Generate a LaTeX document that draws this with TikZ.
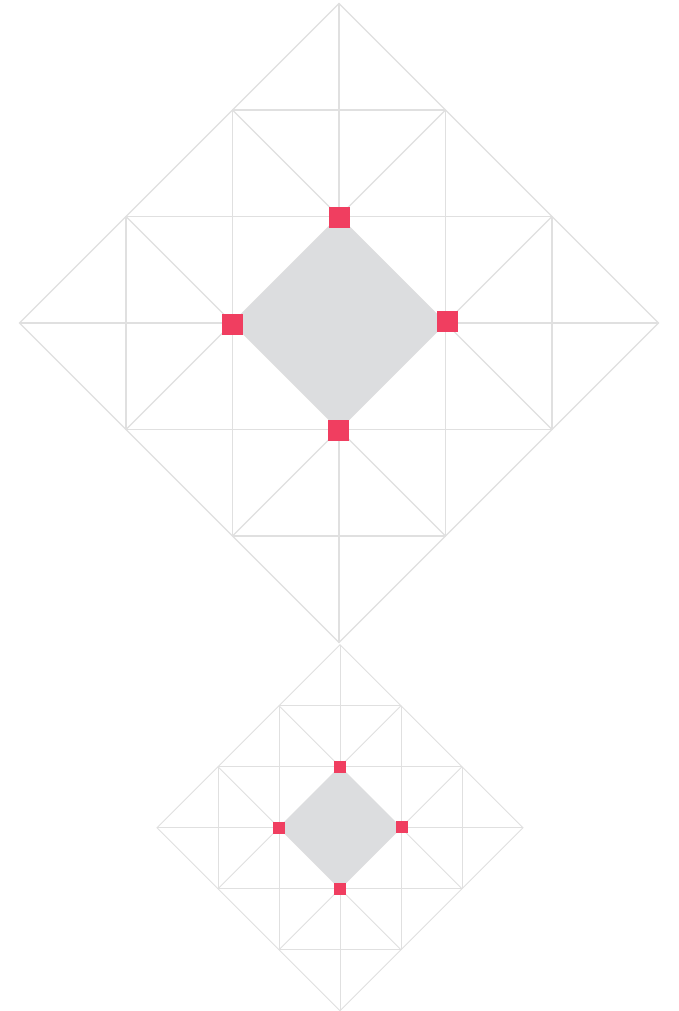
\documentclass[tikz,border=0pt]{standalone}
\definecolor{gridgray}{HTML}{E0E0E0}
\definecolor{fillgray}{HTML}{DCDDDF}
\definecolor{accent}{HTML}{F03E60}
\tikzset{
  gridline/.style={draw=gridgray,line width=#1},
  redsq/.style={fill=accent,draw=none,inner sep=0pt,minimum size=#1,rectangle}
}
\newcommand\diamondpattern[4]{% cx, cy, spacing, line width
  \begin{scope}[shift={(#1,#2)},x=#3pt,y=-#3pt,gridline=#4]
    \draw (0,-3) -- (3,0) -- (0,3) -- (-3,0) -- cycle;
    \foreach \k/\m in {-2/1,-1/2,0/3,1/2,2/1}{
      \draw (\k,-\m) -- (\k,\m);
      \draw (-\m,\k) -- (\m,\k);
    }
    \draw (2,1) -- (-1,-2);
    \draw (1,2) -- (-2,-1);
    \draw (2,-1) -- (-1,2);
    \draw (1,-2) -- (-2,1);
    \fill[fillgray] (0,-1) -- (1,0) -- (0,1) -- (-1,0) -- cycle;
  \end{scope}
}
\begin{document}
\begin{tikzpicture}[x=1pt,y=-1pt]
  \useasboundingbox (0,0) rectangle (678,1011);
  \fill[white] (0,0) rectangle (678,1011);
  % large pattern
  \diamondpattern{339}{323}{106.5}{1.1pt}
  \node[redsq=21pt] (At) at (339.5,217) {};
  \node[redsq=21pt] (Ar) at (447.5,321.3) {};
  \node[redsq=21pt] (Ab) at (338.5,430) {};
  \node[redsq=21pt] (Al) at (232.5,324) {};
  % small pattern
  \diamondpattern{340}{827.7}{61}{0.85pt}
  \node[redsq=12pt] (Bt) at (340,767) {};
  \node[redsq=12pt] (Br) at (402,827) {};
  \node[redsq=12pt] (Bb) at (340,888.7) {};
  \node[redsq=12pt] (Bl) at (279,827.5) {};
\end{tikzpicture}
\end{document}
